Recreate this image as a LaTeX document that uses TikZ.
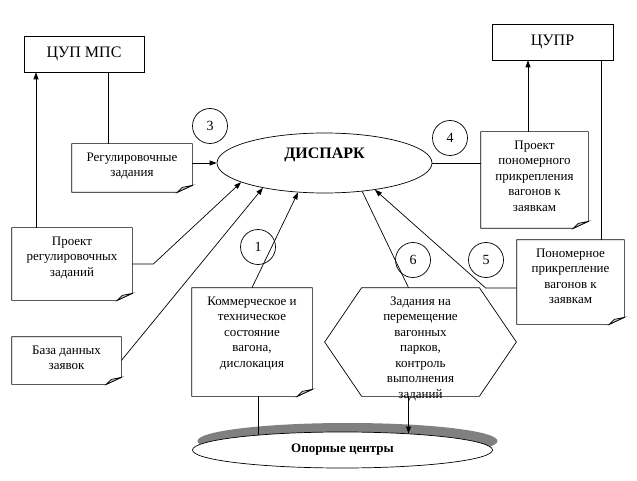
\documentclass[tikz,border=0pt]{standalone}
\usepackage{fontspec}
\setmainfont{Liberation Serif}
\usepackage{tikz}
\usetikzlibrary{arrows.meta,shapes.geometric,shadows}

\tikzset{
  box/.style={draw, inner sep=0pt, font=\fontsize{16}{18}\selectfont},
  note/.style={inner sep=0pt},
  txt/.style={anchor=north, align=center, inner sep=0pt, yshift=-8.5pt, font=\fontsize{13}{15.5}\selectfont},
  num/.style={draw, circle, minimum size=35pt, inner sep=0pt, font=\fontsize{14}{16}\selectfont},
  arr/.style={->, >={Triangle[length=7pt,width=5pt]}},
}

\begin{document}
\begin{tikzpicture}[x=1pt, y=-1pt, line width=0.7pt]
\useasboundingbox (0,0) rectangle (637,481);
\fill[white] (0,0) rectangle (637,481);

\node[box, minimum width=120pt, minimum height=36pt] (cupmps) at (84,54) {ЦУП МПС};
\node[box, minimum width=121pt, minimum height=36pt] (cupr) at (552.5,42) {ЦУПР};

\node[draw, ellipse, minimum width=215pt, minimum height=60pt, text height=11pt, text depth=20pt,
  font=\bfseries\fontsize{16}{18}\selectfont] (disp) at (324.5,163) {ДИСПАРК};

\node[note, minimum width=120pt, minimum height=48pt, label={[txt]north:{Регулировочные\\задания}}] (reg) at (132,168) {};
\node[note, minimum width=120pt, minimum height=72pt, label={[txt]north:{Проект\\регулировочных\\заданий}}] (prreg) at (72,264) {};
\node[note, minimum width=109pt, minimum height=47pt, label={[txt]north:{База данных\\заявок}}] (baza) at (66.5,360.5) {};
\node[note, minimum width=120pt, minimum height=108pt, label={[txt]north:{Коммерческое и\\техническое\\состояние\\вагона,\\дислокация}}] (komm) at (252,342) {};
\node[note, minimum width=107pt, minimum height=96pt, label={[txt]north:{Проект\\пономерного\\прикрепления\\вагонов к\\заявкам}}] (prpon) at (534.5,180) {};
\node[note, minimum width=107pt, minimum height=84pt, label={[txt]north:{Пономерное\\прикрепление\\вагонов к\\заявкам}}] (ponom) at (570.5,282) {};

\foreach \n in {reg,prreg,baza,komm,prpon,ponom}{
  \draw (\n.north west) -- (\n.north east) -- ([yshift=7pt]\n.south east) -- ([xshift=-15pt]\n.south east) -- (\n.south west) -- cycle;
  \filldraw[fill=gray!45] ([xshift=-15pt]\n.south east) -- ([yshift=7pt]\n.south east) -- ([xshift=-10pt,yshift=5pt]\n.south east) -- cycle;
}

\node[inner sep=0pt, minimum width=191pt, minimum height=108pt,
  label={[txt]north:{Задания на\\перемещение\\вагонных\\парков,\\контроль\\выполнения\\заданий}}] (hex) at (420.5,342) {};
\draw (hex.west) -- ([xshift=37pt]hex.north west) -- ([xshift=-37pt]hex.north east) -- (hex.east)
  -- ([xshift=-37pt]hex.south east) -- ([xshift=37pt]hex.south west) -- cycle;

\node[draw, ellipse, fill=white, minimum width=300pt, minimum height=36pt,
  drop shadow={shadow xshift=5pt, shadow yshift=9pt, fill=gray, opacity=1},
  font=\bfseries\fontsize{13}{15}\selectfont] (opor) at (342.5,450) {Опорные центры};

\node[num] (n1) at (258,247) {1};
\node[num] (n3) at (210,126) {3};
\node[num] (n4) at (450,138) {4};
\node[num] (n5) at (486,260) {5};
\node[num] (n6) at (413,260) {6};

\draw ([xshift=24pt]cupmps.south) -- ([xshift=24pt]cupmps.south |- reg.north);
\draw[arr] ([xshift=-36pt]prreg.north) -- ([xshift=-36pt]prreg.north |- cupmps.south);
\draw[arr] (reg.east |- disp.west) -- (disp.west);
\draw[arr] (prreg.east) -- ++(21,0) -- (disp.193);
\draw[arr] (baza.east) -- (disp.202);
\draw[arr] (komm.north) -- (disp.228);
\draw ([xshift=6pt]komm.south) -- ([xshift=6pt]komm.south |- opor.170);
\draw[arr] ([xshift=-12pt]hex.south) -- ([xshift=-12pt]hex.south |- opor.14);
\draw (disp.323) -- ([xshift=-12pt]hex.north);
\draw[arr] ([yshift=-6pt]ponom.west) -- ++(-31,0) -- (disp.332);
\draw (disp.east) -- (disp.east -| prpon.west);
\draw[arr] ([xshift=-6.5pt]prpon.north) -- ([xshift=-6.5pt]prpon.north |- cupr.south);
\draw ([xshift=48.5pt]cupr.south) -- ([xshift=48.5pt]cupr.south |- ponom.north);
\end{tikzpicture}
\end{document}
